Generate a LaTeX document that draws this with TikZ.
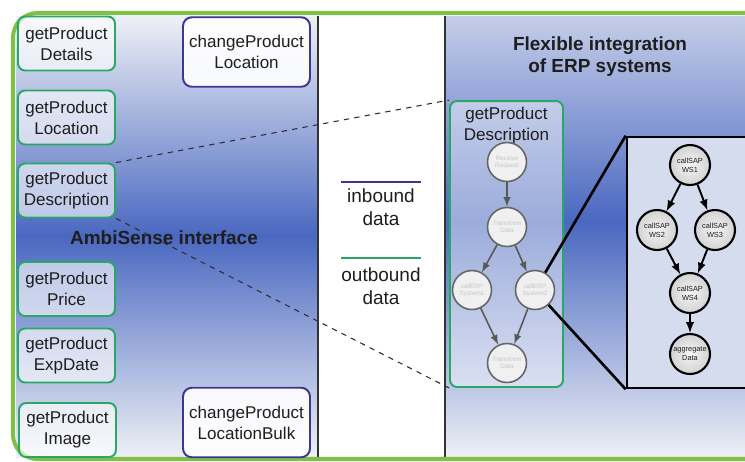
\documentclass[tikz,border=0pt]{standalone}
\usepackage{fontspec}
\setmainfont{Liberation Sans}
\usepackage{xcolor}
\definecolor{frame}{RGB}{128,192,72}
\definecolor{outb}{RGB}{40,168,100}
\definecolor{inb}{RGB}{62,52,150}
\definecolor{deep}{RGB}{74,104,192}
\definecolor{pale}{RGB}{238,240,246}
\definecolor{ink}{RGB}{30,30,30}

\begin{document}
\begin{tikzpicture}[x=0.02cm,y=-0.02cm,
  txt/.style={font=\fontsize{9.7}{12}\selectfont,text=ink,align=center},
  opbox/.style={txt,draw=outb,line width=1.1pt,rounded corners=4pt,fill=white,fill opacity=0.62,text opacity=1,minimum width=1.94cm,minimum height=1.08cm,inner sep=0pt},
  chbox/.style={txt,draw=inb,line width=1.1pt,rounded corners=5pt,fill=white,fill opacity=0.9,text opacity=1,minimum width=2.54cm,minimum height=1.39cm,inner sep=0pt},
  flow/.style={circle,draw=gray!80!black,line width=0.9pt,fill=gray!12,minimum size=0.78cm,inner sep=0pt,align=center,font=\fontsize{3.6}{4}\selectfont,text=gray!45},
  sap/.style={circle,draw=black,line width=1.2pt,inner color=gray!8,outer color=gray!35,minimum size=0.8cm,inner sep=0pt,align=center,font=\fontsize{4.2}{5}\selectfont,text=ink},
  head/.style={font=\fontsize{10.8}{12.6}\bfseries\selectfont,text=ink,align=center}]

  \useasboundingbox (0,0) rectangle (745,461);
  \clip (0,0) rectangle (745,461);

  % panels
  \shade[top color=pale,bottom color=deep] (16,16) rectangle (318,236);
  \shade[top color=deep,bottom color=pale] (16,235.5) rectangle (318,457);
  \fill[white] (318,16) rectangle (445,457);
  \shade[top color=pale!75!deep,bottom color=deep] (445,16) rectangle (745,222);
  \shade[top color=deep,bottom color=pale] (445,221.5) rectangle (745,457);
  \draw[gray!40!black,line width=0.6pt] (318,16) -- (318,457);
  \draw[gray!40!black,line width=0.6pt] (445,16) -- (445,457);
  \draw[frame,line width=2.3pt,rounded corners=14pt] (13,13) rectangle (790,459);

  % AmbiSense side
  \node[opbox] (details)  at (66.5,43.5)  {getProduct\\Details};
  \node[opbox] (location) at (66.5,117.5) {getProduct\\Location};
  \node[opbox] (desc)     at (66.5,190.5) {getProduct\\Description};
  \node[opbox] (price)    at (66.5,289)   {getProduct\\Price};
  \node[opbox] (expdate)  at (66.5,355.5) {getProduct\\ExpDate};
  \node[opbox] (image)    at (67.5,430)   {getProduct\\Image};
  \node[chbox] (chloc)    at (246.5,52)   {changeProduct\\Location};
  \node[chbox] (chbulk)   at (246.5,422.5){changeProduct\\LocationBulk};
  \node[head]  (ambi)     at (164,238)    {AmbiSense interface};

  % legend
  \coordinate (inA) at (341,182);  \coordinate (inB) at (421,182);
  \coordinate (outA) at (341,258); \coordinate (outB) at (421,258);
  \draw[inb,line width=1.5pt] (inA) -- (inB);
  \draw[outb,line width=1.5pt] (outA) -- (outB);
  \node[txt,font=\fontsize{10.8}{13}\selectfont] (inlbl)  at (381,207) {inbound\\data};
  \node[txt,font=\fontsize{10.8}{13}\selectfont] (outlbl) at (381,286) {outbound\\data};

  % ERP side
  \node[head] (erp) at (600,57) {Flexible integration\\of ERP systems};
  \node[opbox,minimum width=2.26cm,minimum height=5.72cm,fill opacity=0.45] (bigdesc) at (506.5,244) {};
  \node[txt] (bigttl) at (506.5,126) {getProduct\\Description};
  \node[flow] (c1) at (507,162) {Receive\\Request};
  \node[flow] (c2) at (507,227) {Transform\\Data};
  \node[flow] (c3) at (472,290) {callERP\\System1};
  \node[flow] (c4) at (535,290) {callERP\\System2};
  \node[flow] (c5) at (507,363) {Transform\\Data};
  \draw[-latex,gray!70!black,line width=0.9pt] (c1) -- (c2);
  \draw[-latex,gray!70!black,line width=0.9pt] (c2) -- (c3);
  \draw[-latex,gray!70!black,line width=0.9pt] (c2) -- (c4);
  \draw[-latex,gray!70!black,line width=0.9pt] (c3) -- (c5);
  \draw[-latex,gray!70!black,line width=0.9pt] (c4) -- (c5);

  \draw[dashed,gray!35!black,line width=0.6pt] (desc.north east) -- (bigdesc.north west);
  \draw[dashed,gray!35!black,line width=0.6pt] (desc.south east) -- (bigdesc.south west);

  % zoom into callERP System2
  \node[draw=black,line width=1.5pt,fill=pale!85!deep,minimum width=2.9cm,minimum height=5.02cm,inner sep=0pt] (zoombox) at (699.5,262.5) {};
  \draw[black,line width=1.5pt] (zoombox.north west) -- (c4);
  \draw[black,line width=1.5pt] (zoombox.south west) -- (c4);
  \node[sap] (ws1) at (690,165) {callSAP\\WS1};
  \node[sap] (ws2) at (657,230) {callSAP\\WS2};
  \node[sap] (ws3) at (715,230) {callSAP\\WS3};
  \node[sap] (ws4) at (690,293) {callSAP\\WS4};
  \node[sap] (agg) at (690,354) {aggregate\\Data};
  \draw[-latex,line width=1.1pt] (ws1) -- (ws2);
  \draw[-latex,line width=1.1pt] (ws1) -- (ws3);
  \draw[-latex,line width=1.1pt] (ws2) -- (ws4);
  \draw[-latex,line width=1.1pt] (ws3) -- (ws4);
  \draw[-latex,line width=1.1pt] (ws4) -- (agg);

\end{tikzpicture}
\end{document}
